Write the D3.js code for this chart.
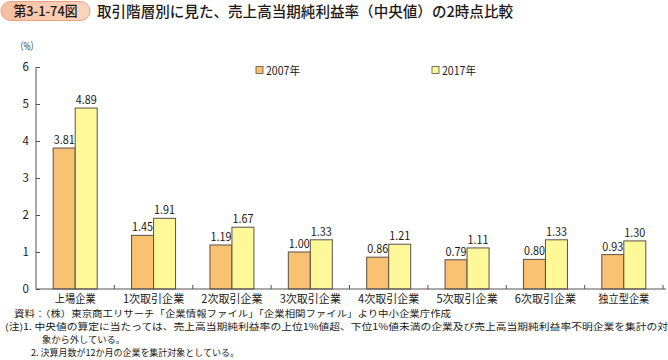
<!DOCTYPE html>
<html><head><meta charset="utf-8">
<script src="https://cdn.jsdelivr.net/npm/d3@7/dist/d3.min.js"></script>
<style>body{margin:0;background:#fff}svg{display:block}text{font-family:"Noto Sans CJK JP","Noto Sans",sans-serif;fill:#231815}</style>
</head><body>
<script>
const categories = ["上場企業","1次取引企業","2次取引企業","3次取引企業","4次取引企業","5次取引企業","6次取引企業","独立型企業"];
const series2007 = [3.81,1.45,1.19,1.00,0.86,0.79,0.80,0.93];
const series2017 = [4.89,1.91,1.67,1.33,1.21,1.11,1.33,1.30];
const seriesNames = ["2007年","2017年"];
const yTicks = [0,1,2,3,4,5,6];
const labels2007 = ["3.81","1.45","1.19","1.00","0.86","0.79","0.80","0.93"];
const labels2017 = ["4.89","1.91","1.67","1.33","1.21","1.11","1.33","1.30"];
const titleBadge = "第3-1-74図";
const titleText = "取引階層別に見た、売上高当期純利益率（中央値）の2時点比較";
const notes = [
  "資料：（株）東京商工リサーチ「企業情報ファイル」「企業相関ファイル」より中小企業庁作成",
  "(注)1. 中央値の算定に当たっては、売上高当期純利益率の上位1%値超、下位1%値未満の企業及び売上高当期純利益率不明企業を集計の対",
  "象から外している。",
  "2. 決算月数が12か月の企業を集計対象としている。"
];

const W=668,H=360;
const svg=d3.select("body").append("svg").attr("width",W).attr("height",H);
const colors=["#F9C172","#FFF899"];
const stroke="#5a5048";

// title badge
const badge=svg.append("g");
const grad=svg.append("defs").append("linearGradient").attr("id","bg").attr("x1",0).attr("x2",1);
grad.append("stop").attr("offset","0%").attr("stop-color","#F6BFA0");
grad.append("stop").attr("offset","100%").attr("stop-color","#FBD5BE");
badge.append("rect").attr("x",1).attr("y",1.5).attr("width",89).attr("height",19).attr("rx",9.5)
  .attr("fill","url(#bg)").attr("stroke","#EDA27E").attr("stroke-width",1);
badge.append("text").attr("x",45.5).attr("y",16).attr("text-anchor","middle").attr("font-size",13.5)
  .attr("font-weight",500).attr("textLength",64).attr("lengthAdjust","spacingAndGlyphs").text(titleBadge);
svg.append("text").attr("x",97).attr("y",16.5).attr("font-size",14.5).attr("font-weight",500).attr("textLength",416)
  .attr("lengthAdjust","spacingAndGlyphs").text(titleText);

const x0=36,x1=663,yTop=67,yBot=289;
const x=d3.scaleBand().domain(categories).range([x0,x1]);
const y=d3.scaleLinear().domain([0,6]).range([yBot,yTop]);
const bw=22;
const inner=d3.scaleBand().domain([0,1]).range([-bw,bw]);

// y axis
const ya=svg.append("g").attr("transform",`translate(${x0},0)`)
  .call(d3.axisLeft(y).tickValues(yTicks).tickSize(-4).tickPadding(7).tickFormat(d3.format("d")));
ya.select(".domain").attr("stroke","#555").attr("d",`M0,${yTop}V${yBot}`);
ya.selectAll(".tick line").attr("stroke","#555");
ya.selectAll(".tick text").attr("font-size",11.5).attr("fill","#231815").attr("font-family","'Noto Sans CJK JP',sans-serif");
svg.append("text").attr("x",16).attr("y",50).attr("font-size",10.5).text("（%）").attr("textLength",22).attr("lengthAdjust","spacingAndGlyphs");

// bars
const data=categories.map((c,i)=>({c,v:[series2007[i],series2017[i]],l:[labels2007[i],labels2017[i]]}));
const g=svg.append("g");
data.forEach(d=>{
  const cx=x(d.c)+x.bandwidth()/2;
  [0,1].forEach(k=>{
    const bx=cx+inner(k);
    g.append("rect").attr("x",bx).attr("y",y(d.v[k])).attr("width",bw).attr("height",yBot-y(d.v[k]))
      .attr("fill",colors[k]).attr("stroke",stroke).attr("stroke-width",1);
    g.append("text").attr("x",bx+bw/2).attr("y",y(d.v[k])-4).attr("text-anchor","middle")
      .attr("font-size",11.5).attr("textLength",21).attr("lengthAdjust","spacingAndGlyphs").text(d.l[k]);
  });
});

// x axis
svg.append("line").attr("x1",x0).attr("x2",x1+3).attr("y1",yBot).attr("y2",yBot).attr("stroke","#555");
categories.forEach((c,i)=>{
  const bx=x(c)+x.bandwidth();
  svg.append("line").attr("x1",bx).attr("x2",bx).attr("y1",yBot).attr("y2",yBot-4).attr("stroke","#555");
  svg.append("text").attr("x",x(c)+x.bandwidth()/2).attr("y",yBot+14).attr("text-anchor","middle")
    .attr("font-size",11.5).attr("textLength",c.length*10.2).attr("lengthAdjust","spacingAndGlyphs").text(c);
});

// legend
const lg=[[256,seriesNames[0]],[432,seriesNames[1]]];
lg.forEach(([lx,t],k)=>{
  svg.append("rect").attr("x",lx).attr("y",66.5).attr("width",7).attr("height",7).attr("fill",colors[k]).attr("stroke",stroke).attr("stroke-width",0.8);
  svg.append("text").attr("x",lx+10).attr("y",74.5).attr("font-size",11.5).attr("textLength",34).attr("lengthAdjust","spacingAndGlyphs").text(t);
});

// notes
const nl=[[14,317,437],[5,330,663],[42,343,83],[31,356,208]];
notes.forEach((t,i)=>{
  svg.append("text").attr("transform",`translate(${nl[i][0]},${nl[i][1]}) scale(1,0.85)`).attr("font-size",10.5)
    .attr("textLength",nl[i][2]).attr("lengthAdjust","spacingAndGlyphs").attr("fill","#3e3a39").text(t);
});
</script>
</body></html>
